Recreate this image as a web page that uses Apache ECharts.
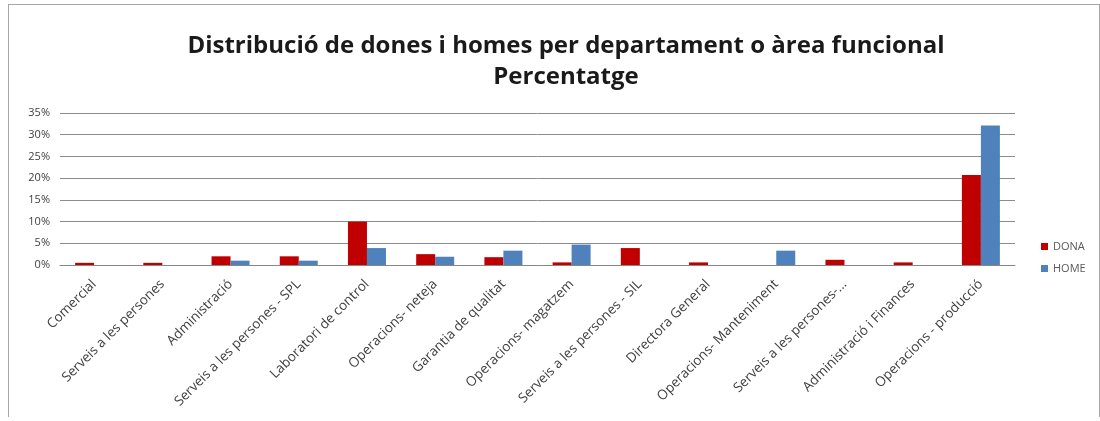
<!DOCTYPE html>
<html>
<head>
<meta charset="utf-8">
<script src="https://cdn.jsdelivr.net/npm/echarts@6/dist/echarts.min.js"></script>
<style>
  html, body { margin: 0; padding: 0; background: #fff; }
  #frame { position: absolute; left: 8px; top: 4px; width: 1090px; height: 412px; border: 1px solid #a6a6a6; border-bottom: none; }
  #container { position: absolute; left: 0; top: 0; width: 1100px; height: 421px; }
</style>
</head>
<body>
<div id="frame"></div>
<div id="container"></div>
<script>
// dades del gràfic
var categories = [
    "Comercial", "Serveis a les persones", "Administració", "Serveis a les persones - SPL",
    "Laboratori de control", "Operacions- neteja", "Garantia de qualitat", "Operacions- magatzem",
    "Serveis a les persones - SIL", "Directora General", "Operacions- Manteniment",
    "Serveis a les persones-...", "Administració i Finances", "Operacions - producció"
];
var dona = [0.5, 0.5, 2.0, 2.0, 10.0, 2.5, 1.8, 0.6, 3.9, 0.6, 0, 1.2, 0.6, 20.7];
var home = [0, 0, 1.0, 1.0, 3.9, 1.9, 3.3, 4.7, 0, 0, 3.3, 0, 0, 32.1];
var yTicks = [0, 5, 10, 15, 20, 25, 30, 35];

var dom = document.getElementById("container");
var myChart = echarts.init(dom);
var option = {
    animation: false,
    title: {
        text: "Distribució de dones i homes per departament o àrea funcional\nPercentatge",
        left: 561,
        top: 26,
        textAlign: 'center',
        textStyle: {
            fontFamily: 'Open Sans',
            fontWeight: 'bold',
            fontSize: 24,
            color: '#1a1a1a',
            lineHeight: 31
        }
    },
    legend: {
        orient: 'vertical',
        left: 1036,
        top: 236,
        itemWidth: 7,
        itemHeight: 7,
        itemGap: 11,
        icon: 'rect',
        textStyle: { fontFamily: 'Open Sans', fontSize: 11, color: '#595959' },
        data: ['DONA', 'HOME']
    },
    grid: { left: 60, right: 85, top: 113, bottom: 156 },
    xAxis: {
        type: 'category',
        data: categories,
        axisTick: { show: false },
        axisLine: { lineStyle: { color: '#868686' } },
        axisLabel: {
            rotate: 45,
            interval: 0,
            fontFamily: 'Open Sans',
            fontSize: 13.5,
            color: '#404040',
            margin: 17
        }
    },
    yAxis: {
        type: 'value',
        min: yTicks[0],
        max: yTicks[yTicks.length - 1],
        interval: 5,
        axisLine: { show: false },
        axisTick: { show: false },
        splitLine: { lineStyle: { color: '#8c8c8c', width: 1 } },
        axisLabel: {
            formatter: '{value}%',
            fontFamily: 'Open Sans',
            fontSize: 11,
            color: '#404040',
            margin: 10
        }
    },
    series: [
        {
            name: 'DONA',
            type: 'bar',
            data: dona,
            barWidth: 19,
            barGap: '0%',
            itemStyle: { color: '#C00000' }
        },
        {
            name: 'HOME',
            type: 'bar',
            data: home,
            barWidth: 19,
            barGap: '0%',
            itemStyle: { color: '#4F81BD' }
        }
    ]
};

if (option && typeof option === 'object') {
    myChart.setOption(option);
}
</script>
</body>
</html>
